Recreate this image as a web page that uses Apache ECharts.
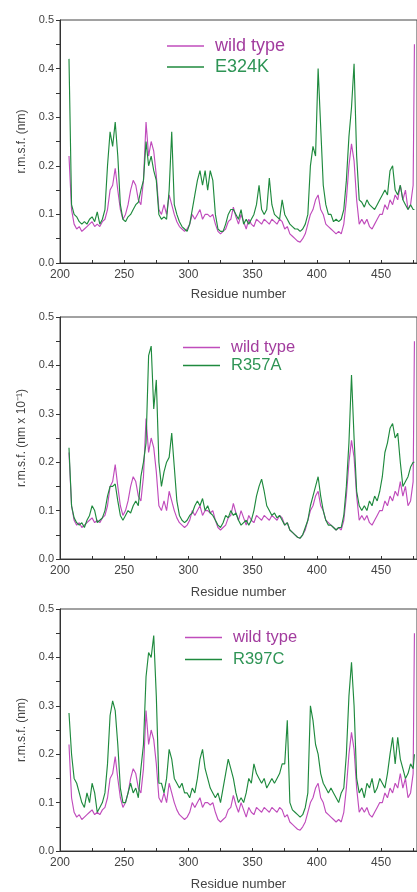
<!DOCTYPE html>
<html>
<head>
<meta charset="utf-8">
<script src="https://cdn.jsdelivr.net/npm/echarts@6/dist/echarts.min.js"></script>
<style>
html,body{margin:0;padding:0;background:#fff;}
#c{width:417px;height:892px;}
</style>
</head>
<body>
<div id="c"></div>
<script>
// Residue numbers (x positions of samples)
const residues = [207,209,211,213,215,217,219,221,223,225,227,229,231,233,235,237,239,241,243,245,247,249,251,253,255,257,259,261,263,265,267,269,271,273,275,277,279,281,283,285,287,289,291,293,295,297,299,301,303,305,307,309,311,313,315,317,319,321,323,325,327,329,331,333,335,337,339,341,343,345,347,349,351,353,355,357,359,361,363,365,367,369,371,373,375,377,379,381,383,385,387,389,391,393,395,397,399,401,403,405,407,409,411,413,415,417,419,421,423,425,427,429,431,433,435,437,439,441,443,445,447,449,451,453,455,457,459,461,463,465,467,469,471,473,475,476];

const wildType = [0.22,0.11,0.08,0.07,0.075,0.065,0.07,0.075,0.08,0.085,0.075,0.08,0.075,0.085,0.09,0.11,0.15,0.16,0.195,0.15,0.11,0.09,0.10,0.12,0.15,0.17,0.16,0.13,0.12,0.17,0.29,0.22,0.25,0.23,0.18,0.11,0.10,0.12,0.10,0.14,0.12,0.10,0.085,0.075,0.07,0.065,0.07,0.08,0.10,0.09,0.10,0.11,0.09,0.10,0.10,0.095,0.10,0.08,0.065,0.06,0.065,0.07,0.085,0.09,0.115,0.095,0.08,0.10,0.085,0.07,0.09,0.08,0.075,0.09,0.085,0.08,0.09,0.085,0.08,0.09,0.085,0.08,0.09,0.085,0.07,0.075,0.06,0.055,0.05,0.045,0.043,0.05,0.06,0.08,0.10,0.11,0.13,0.14,0.11,0.10,0.08,0.075,0.07,0.065,0.06,0.065,0.06,0.08,0.13,0.20,0.245,0.21,0.13,0.08,0.09,0.08,0.09,0.075,0.07,0.08,0.09,0.10,0.10,0.12,0.11,0.13,0.12,0.14,0.13,0.16,0.13,0.15,0.11,0.12,0.16,0.45];

const e324k = [0.42,0.12,0.10,0.095,0.085,0.08,0.085,0.08,0.09,0.095,0.085,0.105,0.08,0.09,0.11,0.20,0.27,0.24,0.29,0.22,0.12,0.09,0.085,0.095,0.10,0.11,0.12,0.125,0.15,0.17,0.25,0.20,0.22,0.19,0.17,0.10,0.09,0.095,0.09,0.15,0.27,0.12,0.10,0.085,0.075,0.07,0.065,0.08,0.11,0.14,0.17,0.19,0.16,0.19,0.15,0.19,0.17,0.10,0.07,0.065,0.065,0.08,0.10,0.11,0.11,0.10,0.09,0.11,0.08,0.09,0.08,0.09,0.10,0.12,0.16,0.11,0.10,0.11,0.175,0.12,0.10,0.095,0.09,0.13,0.10,0.09,0.08,0.075,0.07,0.07,0.065,0.07,0.08,0.10,0.20,0.24,0.22,0.40,0.28,0.16,0.12,0.10,0.10,0.085,0.09,0.085,0.09,0.11,0.17,0.26,0.32,0.41,0.22,0.13,0.125,0.115,0.13,0.12,0.115,0.11,0.12,0.13,0.14,0.15,0.14,0.19,0.20,0.15,0.14,0.16,0.13,0.12,0.11,0.12,0.11,0.11];

const r357a = [0.23,0.11,0.085,0.075,0.07,0.075,0.065,0.08,0.09,0.11,0.10,0.075,0.08,0.085,0.10,0.13,0.15,0.15,0.155,0.12,0.09,0.08,0.09,0.10,0.095,0.11,0.12,0.11,0.17,0.20,0.24,0.42,0.44,0.31,0.37,0.20,0.15,0.18,0.20,0.21,0.26,0.19,0.12,0.09,0.08,0.075,0.08,0.09,0.095,0.11,0.12,0.11,0.125,0.10,0.11,0.095,0.09,0.08,0.07,0.065,0.075,0.09,0.085,0.10,0.09,0.095,0.08,0.07,0.075,0.08,0.07,0.08,0.10,0.13,0.15,0.165,0.14,0.11,0.10,0.09,0.095,0.085,0.09,0.08,0.07,0.075,0.06,0.055,0.05,0.045,0.043,0.05,0.065,0.08,0.11,0.13,0.15,0.17,0.13,0.10,0.08,0.07,0.07,0.065,0.06,0.065,0.065,0.09,0.15,0.24,0.38,0.25,0.14,0.11,0.10,0.11,0.10,0.12,0.11,0.13,0.12,0.14,0.17,0.22,0.24,0.27,0.28,0.25,0.26,0.20,0.15,0.16,0.17,0.19,0.20,0.20];

const r397c = [0.285,0.20,0.15,0.14,0.12,0.10,0.09,0.12,0.10,0.14,0.12,0.08,0.09,0.10,0.12,0.18,0.28,0.31,0.29,0.22,0.13,0.10,0.10,0.12,0.14,0.12,0.13,0.11,0.17,0.22,0.36,0.41,0.40,0.445,0.32,0.14,0.14,0.12,0.15,0.21,0.19,0.15,0.14,0.13,0.14,0.12,0.12,0.11,0.13,0.12,0.15,0.19,0.21,0.17,0.15,0.13,0.12,0.11,0.12,0.10,0.13,0.16,0.19,0.17,0.15,0.12,0.10,0.11,0.10,0.12,0.15,0.14,0.18,0.16,0.15,0.14,0.15,0.13,0.14,0.15,0.14,0.15,0.16,0.18,0.18,0.27,0.10,0.085,0.08,0.075,0.07,0.075,0.09,0.12,0.30,0.27,0.22,0.20,0.16,0.14,0.13,0.12,0.13,0.12,0.11,0.10,0.12,0.13,0.20,0.32,0.39,0.30,0.15,0.12,0.13,0.11,0.14,0.13,0.15,0.12,0.13,0.15,0.14,0.13,0.16,0.20,0.235,0.18,0.235,0.19,0.17,0.15,0.16,0.18,0.17,0.20];

const mutantNames = ['E324K', 'R357A', 'R397C'];
const mutantData = [e324k, r357a, r397c];
const yTitles = ['r.m.s.f. (nm)', 'r.m.s.f. (nm x 10\u207B\u00B9)', 'r.m.s.f. (nm)'];
const xTitle = 'Residue number';

const WT_COLOR = '#c04cbc';
const MUT_COLOR = '#1f8a3e';
const WT_TEXT = '#a23c9e';
const MUT_TEXT = '#2e9455';
const FONT = '"Liberation Sans", Arial, sans-serif';

const panels = [
  {top: 20, height: 243, nameGap: 25, legendTop: 32, legendLeft: 162, legendFont: 18, legendGap: 3},
  {top: 317, height: 242, nameGap: 27, legendTop: 334, legendLeft: 178, legendFont: 16.5, legendGap: 1},
  {top: 609, height: 243, nameGap: 27, legendTop: 624, legendLeft: 180, legendFont: 16.5, legendGap: 5}
];

const grids = [], xAxes = [], yAxes = [], series = [], legends = [];
panels.forEach((p, i) => {
  grids.push({left: 60, width: 359, top: p.top, height: p.height, show: true, borderColor: '#444', borderWidth: 1, backgroundColor: 'transparent'});
  xAxes.push({
    type: 'value', gridIndex: i, min: 200, max: 478, interval: 50,
    name: xTitle, nameLocation: 'middle', nameGap: p.nameGap,
    nameTextStyle: {fontFamily: FONT, fontSize: 13, color: '#444'},
    axisLine: {show: true, onZero: false, lineStyle: {color: '#333', width: 1}},
    axisTick: {show: true, inside: true, length: 3, lineStyle: {color: '#333'}},
    minorTick: {show: true, splitNumber: 2, length: 3, lineStyle: {color: '#333'}},
    axisLabel: {fontFamily: FONT, fontSize: 12, color: '#444', margin: 6, showMaxLabel: false},
    splitLine: {show: false}
  });
  yAxes.push({
    type: 'value', gridIndex: i, min: 0, max: 0.5, interval: 0.1,
    name: yTitles[i], nameLocation: 'middle', nameGap: 30, nameRotate: 90,
    nameTextStyle: {fontFamily: FONT, fontSize: 12, color: '#444'},
    axisLine: {show: true, onZero: false, lineStyle: {color: '#333', width: 1}},
    axisTick: {show: true, inside: false, length: 4, lineStyle: {color: '#333'}},
    minorTick: {show: true, splitNumber: 2, length: 4, lineStyle: {color: '#333'}},
    axisLabel: {fontFamily: FONT, fontSize: 11, color: '#444', margin: 6, formatter: v => v.toFixed(1)},
    splitLine: {show: false}
  });
  series.push({
    name: 'wild type', type: 'line', xAxisIndex: i, yAxisIndex: i,
    data: residues.map((r, k) => [r, wildType[k]]),
    showSymbol: false, color: WT_COLOR, lineStyle: {width: 1.15, color: WT_COLOR}, z: 2, animation: false
  });
  series.push({
    name: mutantNames[i], type: 'line', xAxisIndex: i, yAxisIndex: i,
    data: residues.map((r, k) => [r, mutantData[i][k]]),
    showSymbol: false, color: MUT_COLOR, lineStyle: {width: 1.15, color: MUT_COLOR}, z: 3, animation: false
  });
  legends.push({
    orient: 'vertical', left: p.legendLeft, top: p.legendTop,
    icon: 'rect', itemWidth: 37, itemHeight: 1.5, itemGap: p.legendGap,
    selectedMode: false,
    textStyle: {fontFamily: FONT, fontSize: p.legendFont, padding: [0, 0, 0, 6]},
    data: [
      {name: 'wild type', textStyle: {color: WT_TEXT}},
      {name: mutantNames[i], textStyle: {color: MUT_TEXT}}
    ]
  });
});

const chart = echarts.init(document.getElementById('c'), null, {renderer: 'canvas'});
chart.setOption({
  animation: false,
  backgroundColor: '#fff',
  grid: grids, xAxis: xAxes, yAxis: yAxes, series: series, legend: legends
});
</script>
</body>
</html>
